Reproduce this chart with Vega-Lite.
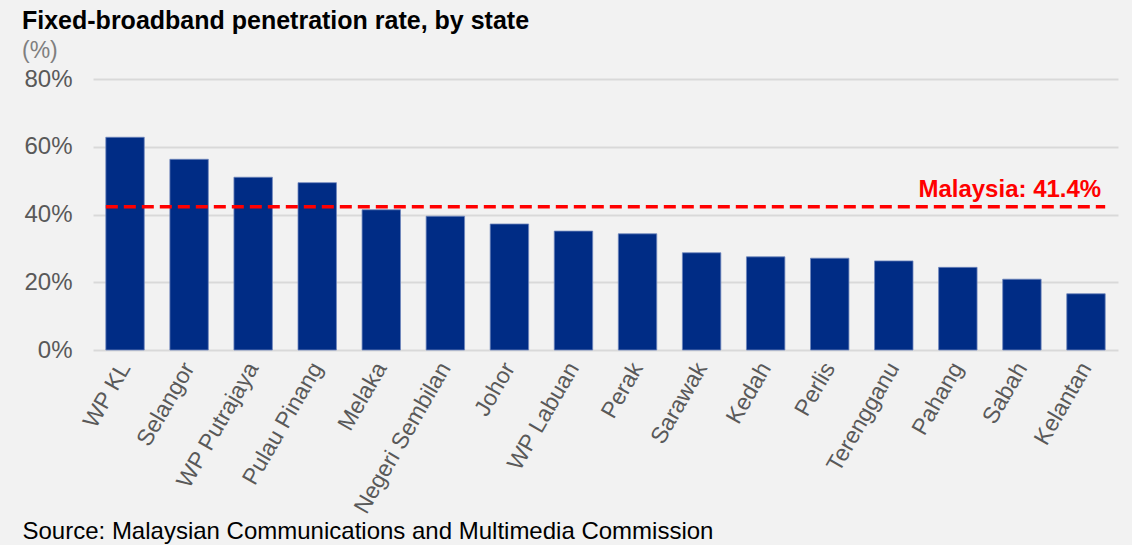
{
  "$schema": "https://vega.github.io/schema/vega-lite/v6.json",
  "autosize": "none",
  "width": 1025,
  "height": 271,
  "padding": {"left": 93, "top": 79, "right": 14, "bottom": 195},
  "background": "#F2F2F2",
  "title": {
    "text": "Fixed-broadband penetration rate, by state",
    "subtitle": "(%)",
    "anchor": "start",
    "frame": "group",
    "dx": -71,
    "offset": 4,
    "font": "Liberation Sans",
    "fontSize": 25,
    "fontWeight": "bold",
    "color": "#000000",
    "subtitleFont": "Liberation Sans",
    "subtitleFontSize": 23,
    "subtitleColor": "#7F7F7F",
    "subtitlePadding": 6
  },
  "datasets": {
    "states": [
      {"state": "WP KL", "rate": 62.8},
      {"state": "Selangor", "rate": 56.3},
      {"state": "WP Putrajaya", "rate": 51.0},
      {"state": "Pulau Pinang", "rate": 49.4},
      {"state": "Melaka", "rate": 41.4},
      {"state": "Negeri Sembilan", "rate": 39.5},
      {"state": "Johor", "rate": 37.2},
      {"state": "WP Labuan", "rate": 35.1},
      {"state": "Perak", "rate": 34.3},
      {"state": "Sarawak", "rate": 28.7},
      {"state": "Kedah", "rate": 27.5},
      {"state": "Perlis", "rate": 27.1},
      {"state": "Terengganu", "rate": 26.3},
      {"state": "Pahang", "rate": 24.4},
      {"state": "Sabah", "rate": 20.9},
      {"state": "Kelantan", "rate": 16.6}
    ],
    "national": [
      {"from": "WP KL", "to": "Kelantan", "avg": 42.3, "label": "Malaysia: 41.4%"}
    ]
  },
  "layer": [
    {
      "data": {"name": "states"},
      "mark": {"type": "bar", "color": "#002C85", "stroke": "#6E86BC", "strokeWidth": 0.8},
      "encoding": {
        "x": {
          "field": "state",
          "type": "nominal",
          "sort": null,
          "scale": {
            "domain": ["WP KL", "Selangor", "WP Putrajaya", "Pulau Pinang", "Melaka", "Negeri Sembilan", "Johor", "WP Labuan", "Perak", "Sarawak", "Kedah", "Perlis", "Terengganu", "Pahang", "Sabah", "Kelantan"],
            "paddingInner": 0.4,
            "paddingOuter": 0.2
          },
          "axis": {
            "labelAngle": -60,
            "labelAlign": "right",
            "labelBaseline": "middle",
            "labelFont": "Liberation Sans",
            "labelFontSize": 23,
            "labelColor": "#595959",
            "labelPadding": 14,
            "labelLimit": 0,
            "ticks": false,
            "domain": false,
            "title": "Source: Malaysian Communications and Multimedia Commission",
            "titleFont": "Liberation Sans",
            "titleFontSize": 24,
            "titleFontWeight": "normal",
            "titleColor": "#000000",
            "titleAlign": "left",
            "titleAnchor": "start",
            "titleBaseline": "alphabetic",
            "titleX": -71,
            "titleY": 188
          }
        },
        "y": {
          "field": "rate",
          "type": "quantitative",
          "scale": {"domain": [0, 80], "nice": false},
          "axis": {
            "values": [0, 20, 40, 60, 80],
            "labelExpr": "datum.value + '%'",
            "labelFont": "Liberation Sans",
            "labelFontSize": 24,
            "labelColor": "#595959",
            "labelPadding": 21,
            "ticks": false,
            "domain": false,
            "grid": true,
            "gridColor": "#D9D9D9",
            "gridWidth": 2,
            "title": null
          }
        }
      }
    },
    {
      "data": {"name": "national"},
      "mark": {"type": "rule", "color": "#FF0000", "strokeWidth": 3.5, "strokeDash": [12, 6]},
      "encoding": {
        "x": {"field": "from", "type": "nominal", "bandPosition": 0},
        "x2": {"field": "to", "bandPosition": 1},
        "y": {"field": "avg", "type": "quantitative"}
      }
    },
    {
      "data": {"name": "national"},
      "mark": {"type": "text", "color": "#FF0000", "font": "Liberation Sans", "fontSize": 24, "fontWeight": "bold", "align": "right", "baseline": "alphabetic", "dy": -10, "dx": -4},
      "encoding": {
        "x": {"field": "to", "type": "nominal", "bandPosition": 1},
        "y": {"field": "avg", "type": "quantitative"},
        "text": {"field": "label"}
      }
    }
  ],
  "config": {"view": {"stroke": null}}
}
